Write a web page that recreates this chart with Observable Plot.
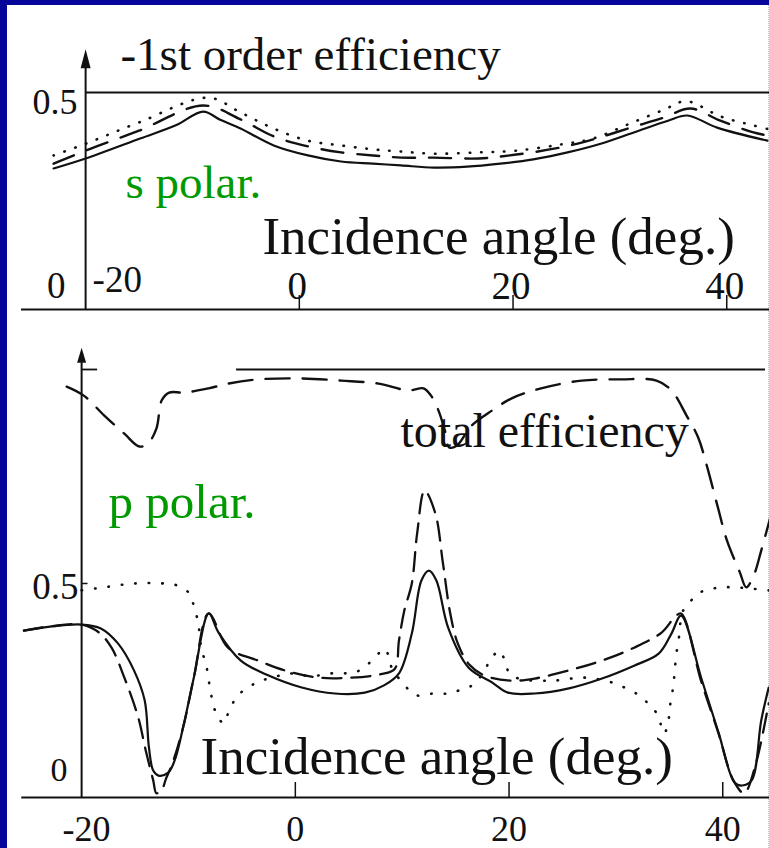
<!DOCTYPE html>
<html>
<head>
<meta charset="utf-8">
<script src="https://cdn.jsdelivr.net/npm/d3@7"></script>
<script src="https://cdn.jsdelivr.net/npm/@observablehq/plot@0.6"></script>
<style>
  html, body { margin: 0; padding: 0; }
  body { width: 769px; height: 848px; background: #06069a; position: relative; overflow: hidden; }
  #sheet { position: absolute; left: 7px; top: 5px; right: 0; bottom: 0; background: #fff; border-right: 1px dotted #c4c4c4; }
  #spol, #ppol { position: absolute; left: 0; }
  #spol { top: 0; }
  #ppol { top: 320px; }
</style>
</head>
<body>
<div id="sheet"></div>
<div id="spol"></div>
<div id="ppol"></div>
<script>
// Diffraction efficiency vs. incidence angle, s and p polarisation.
// Each series is a list of [angle (deg), efficiency].

const sSolid = [[-23.0,0.325],[-20.0,0.348],[-14.9,0.394],[-11.5,0.425],[-9.0,0.456],[-7.4,0.437],[-5.5,0.417],[-2.4,0.378],[0.8,0.355],[3.9,0.341],[6.9,0.336],[9.5,0.332],[12.6,0.327],[15.7,0.329],[18.8,0.336],[21.9,0.346],[25.1,0.362],[28.2,0.382],[31.3,0.408],[34.5,0.435],[36.3,0.447],[39.1,0.419],[43.8,0.389]];
const sDashed = [[-23.0,0.336],[-20.0,0.366],[-15.0,0.412],[-9.0,0.470],[-5.5,0.438],[-2.4,0.399],[0.8,0.376],[3.9,0.362],[6.9,0.355],[9.5,0.350],[12.6,0.350],[16.8,0.348],[20.3,0.357],[24.4,0.373],[27.5,0.392],[31.0,0.419],[34.1,0.442],[36.6,0.463],[39.4,0.435],[42.5,0.408],[44.0,0.400]];
const sDotted = [[-23.0,0.355],[-20.0,0.382],[-15.0,0.431],[-8.5,0.488],[-5.5,0.454],[-2.4,0.417],[0.8,0.389],[3.9,0.378],[6.9,0.369],[9.5,0.364],[12.6,0.359],[16.8,0.362],[20.3,0.366],[24.4,0.380],[27.5,0.394],[31.0,0.429],[34.1,0.460],[36.2,0.480],[39.4,0.445],[42.5,0.424],[44.0,0.415]];

const pSolid = [[-25.4,0.390],[-22.8,0.400],[-20.0,0.404],[-18.2,0.395],[-16.6,0.360],[-15.1,0.297],[-14.1,0.227],[-13.7,0.117],[-13.3,0.063],[-12.8,0.051],[-11.9,0.058],[-11.3,0.086],[-10.5,0.164],[-9.5,0.280],[-8.1,0.430],[-7.2,0.386],[-5.1,0.320],[-2.5,0.285],[0.6,0.257],[3.7,0.243],[6.5,0.245],[8.3,0.262],[9.7,0.290],[10.9,0.383],[11.8,0.507],[12.5,0.530],[13.2,0.507],[14.3,0.397],[16.2,0.304],[18.4,0.269],[19.9,0.245],[22.4,0.243],[25.6,0.255],[28.7,0.278],[31.7,0.308],[34.0,0.336],[35.2,0.383],[36.1,0.425],[38.0,0.278],[39.6,0.152],[41.1,0.035],[41.8,0.028],[42.7,0.040],[43.6,0.180],[44.3,0.257]];
const pDashed = [[-25.4,0.390],[-22.8,0.400],[-20.0,0.404],[-18.4,0.386],[-17.2,0.350],[-16.0,0.280],[-14.7,0.187],[-14.0,0.110],[-13.3,0.040],[-13.0,0.010],[-12.5,0.018],[-12.1,0.044],[-11.5,0.080],[-10.5,0.164],[-9.5,0.280],[-8.1,0.430],[-6.3,0.350],[-3.5,0.320],[-1.0,0.297],[2.2,0.280],[5.2,0.280],[8.0,0.288],[9.3,0.300],[9.7,0.367],[10.2,0.437],[10.9,0.500],[11.4,0.617],[12.1,0.717],[13.1,0.664],[13.8,0.550],[14.5,0.430],[15.2,0.360],[16.3,0.310],[17.7,0.285],[20.2,0.273],[22.4,0.278],[25.6,0.297],[28.7,0.320],[31.7,0.350],[34.3,0.386],[35.5,0.421],[36.1,0.430],[38.0,0.270],[39.6,0.150],[41.0,0.040],[42.0,0.010],[43.0,0.070],[44.3,0.220]];
const pDotted = [[-20.0,0.484],[-18.2,0.490],[-15.1,0.500],[-12.3,0.500],[-11.0,0.495],[-10.0,0.479],[-9.6,0.456],[-9.1,0.409],[-8.8,0.350],[-8.3,0.304],[-7.9,0.243],[-7.4,0.196],[-6.7,0.173],[-6.3,0.196],[-5.7,0.227],[-5.1,0.245],[-4.1,0.262],[-3.2,0.273],[-2.1,0.280],[-0.7,0.290],[0.8,0.285],[2.2,0.285],[3.4,0.290],[4.5,0.290],[5.5,0.292],[6.5,0.304],[7.3,0.325],[7.9,0.339],[8.3,0.348],[8.8,0.327],[9.0,0.304],[9.7,0.278],[10.7,0.250],[11.5,0.238],[12.9,0.243],[14.3,0.243],[15.3,0.250],[16.2,0.257],[16.9,0.269],[17.7,0.297],[18.4,0.327],[19.1,0.343],[19.6,0.320],[20.0,0.292],[20.9,0.278],[24.0,0.273],[27.1,0.280],[29.6,0.269],[30.8,0.257],[31.9,0.243],[32.7,0.227],[33.5,0.208],[34.0,0.187],[34.5,0.150],[34.9,0.173],[35.0,0.203],[35.2,0.234],[35.4,0.266],[35.5,0.297],[35.7,0.343],[35.9,0.374],[36.0,0.402],[36.3,0.437],[36.9,0.456],[37.7,0.477],[38.7,0.486],[39.9,0.491],[41.1,0.491],[42.7,0.488],[44.3,0.484]];
const pTotal = [[-21.4,0.960],[-19.8,0.939],[-17.9,0.893],[-16.0,0.850],[-14.6,0.820],[-13.8,0.827],[-13.0,0.862],[-12.5,0.928],[-11.8,0.946],[-10.4,0.946],[-8.1,0.956],[-6.3,0.967],[-3.5,0.977],[0.6,0.979],[4.3,0.974],[7.8,0.967],[10.6,0.951],[12.0,0.956],[12.7,0.939],[13.4,0.904],[14.0,0.857],[14.4,0.818],[15.1,0.822],[16.5,0.869],[18.4,0.904],[20.2,0.932],[23.0,0.956],[26.8,0.974],[30.5,0.977],[33.8,0.974],[35.2,0.951],[36.6,0.893],[37.7,0.841],[38.5,0.776],[39.5,0.682],[40.4,0.600],[41.6,0.526],[42.2,0.491],[42.9,0.519],[43.6,0.577],[44.5,0.659]];

const angleTicks = [-20, 0, 20, 40];
const upperRefSpans = [[-20, -18.5], [-5.5, 44]];   // the 1.0 line is broken near the axis

const serif = "'Liberation Serif', 'Times New Roman', serif";
const ink = "#111";
const green = "#009a00";

// filled arrowhead for the value axes
function arrowHead(halfWidth, length) {
  return {
    draw(ctx) {
      ctx.moveTo(-halfWidth, 0);
      ctx.lineTo(0, -length);
      ctx.lineTo(halfWidth, 0);
      ctx.closePath();
    }
  };
}

const line = (data, opts) => Plot.line(data, {x: d => d[0], y: d => d[1], curve: "catmull-rom", stroke: ink, strokeWidth: 2.1, ...opts});
const label = (txt, opts) => Plot.text([txt], {text: d => d, lineAnchor: "bottom", fontFamily: serif, fill: ink, ...opts});
const tickText = (ticks, opts) => Plot.text(ticks, {x: d => d, y: 0, text: d => String(d), lineAnchor: "bottom", fontFamily: serif, fill: ink, ...opts});

// ---- s polarisation: -1st order efficiency ----
const sChart = Plot.plot({
  width: 769, height: 320,
  marginLeft: 21, marginRight: 0, marginTop: 92, marginBottom: 11,
  style: {background: "transparent", overflow: "visible"},
  x: {domain: [-26, 44], axis: null},
  y: {domain: [0, 0.5], axis: null},
  marks: [
    Plot.ruleY([0], {x1: -26, x2: 44, stroke: ink, strokeWidth: 2.2}),
    Plot.ruleY([0.5], {x1: -20, x2: 44, stroke: ink, strokeWidth: 1.8}),
    Plot.ruleX([-20], {y1: 0, y2: 0.556, stroke: ink, strokeWidth: 2}),
    Plot.dot([0], {x: -20, y: 0.556, symbol: arrowHead(5, 19), fill: ink, stroke: "none"}),
    Plot.ruleX(angleTicks.filter(d => d !== -20), {x: d => d, y1: 0, y2: 0.032, stroke: ink, strokeWidth: 1.5}),
    line(sDotted, {strokeWidth: 2.6, strokeDasharray: "0.5,11", strokeLinecap: "round"}),
    line(sDashed, {strokeWidth: 2.4, strokeDasharray: "22,14"}),
    line(sSolid, {strokeWidth: 2.2}),
    label("-1st order efficiency", {x: -16.74, y: 0.551, textAnchor: "start", fontSize: 47}),
    label("s polar.", {x: -16.27, y: 0.256, textAnchor: "start", fontSize: 47, fill: green}),
    label("Incidence angle (deg.)", {x: -3.45, y: 0.129, textAnchor: "start", fontSize: 53}),
    label("0.5", {x: -20, y: 0.5, dx: -8, dy: 21, textAnchor: "end", fontSize: 36}),
    label("0", {x: -20, y: 0, dx: -20, dy: -12, textAnchor: "end", fontSize: 37}),
    tickText(angleTicks.filter(d => d === -20), {dx: 7, dy: -18, textAnchor: "start", fontSize: 37}),
    tickText(angleTicks.filter(d => d !== -20), {dx: -2, dy: -11, fontSize: 39})
  ]
});
document.getElementById("spol").append(sChart);

// ---- p polarisation: -1st order and total efficiency ----
const pChart = Plot.plot({
  width: 769, height: 528,
  marginLeft: 17, marginRight: 4, marginTop: 49, marginBottom: 51,
  style: {background: "transparent", overflow: "visible"},
  x: {domain: [-26, 44], axis: null},
  y: {domain: [0, 1], axis: null},
  marks: [
    Plot.ruleY([0], {x1: -25.6, x2: 44.4, stroke: ink, strokeWidth: 2.2}),
    Plot.ruleY(upperRefSpans, {y: 1, x1: d => d[0], x2: d => d[1], stroke: ink, strokeWidth: 1.8}),
    Plot.ruleX([-20], {y1: 0, y2: 1.016, stroke: ink, strokeWidth: 2}),
    Plot.dot([0], {x: -20, y: 1.016, symbol: arrowHead(4.5, 15), fill: ink, stroke: "none"}),
    Plot.ruleY([0.5], {x1: -20, x2: -19.4, stroke: ink, strokeWidth: 1.5}),
    Plot.ruleX(angleTicks.filter(d => d !== -20), {x: d => d, y1: 0, y2: 0.035, stroke: ink, strokeWidth: 1.5}),
    line(pDotted, {strokeWidth: 2.6, strokeDasharray: "0.5,13", strokeLinecap: "round"}),
    line(pTotal, {strokeWidth: 2.4, strokeDasharray: "24,13"}),
    line(pDashed, {strokeWidth: 2.3, strokeDasharray: "19,10"}),
    line(pSolid, {strokeWidth: 2.2}),
    label("total efficiency", {x: 9.84, y: 0.818, textAnchor: "start", fontSize: 48}),
    label("p polar.", {x: -17.48, y: 0.652, textAnchor: "start", fontSize: 49, fill: green}),
    label("Incidence angle (deg.)", {x: -8.875, y: 0.056, textAnchor: "start", fontSize: 53}),
    label("0.5", {x: -20, y: 0.5, dx: -3, dy: 15, textAnchor: "end", fontSize: 37}),
    label("0", {x: -20, y: 0, dx: -14, dy: -17, textAnchor: "end", fontSize: 34}),
    tickText(angleTicks.filter(d => d === -20), {dx: 5, dy: 43, fontSize: 36}),
    tickText(angleTicks.filter(d => d !== -20), {dy: 43, fontSize: 36})
  ]
});
document.getElementById("ppol").append(pChart);
</script>
</body>
</html>
